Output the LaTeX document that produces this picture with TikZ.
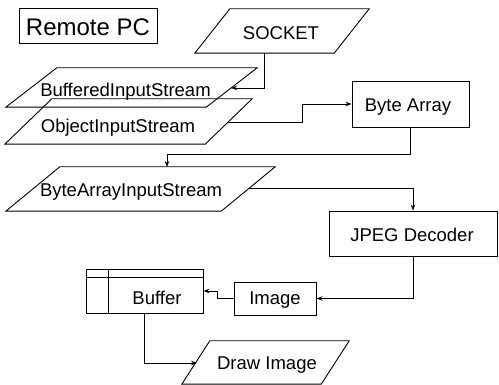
\documentclass[tikz,border=0pt]{standalone}
\usepackage{fontspec}
\setmainfont{Liberation Sans}
\usetikzlibrary{arrows.meta}

% #1 name, #2 #3 centre, #4 width, #5 height, #6 half slant,
% #7 #8 text base point, #9 text
\newcommand\slantbox[9]{%
  \node[shell, minimum width=#4, minimum height=#5] (#1) at (#2,#3) {};
  \draw[edge] ([xshift=#6]#1.north west) -- ([xshift=#6]#1.north east)
    -- ([xshift=-#6]#1.south east) -- ([xshift=-#6]#1.south west) -- cycle;
  \node[lbl] (#1-t) at (#7,#8) {#9};
}

\tikzset{
  edge/.style={line width=0.9pt, line join=miter},
  shell/.style={inner sep=0pt},
  lbl/.style={inner sep=0pt, anchor=base, font=\fontsize{18.5}{20}\selectfont},
  boxed/.style={shell, draw, line width=0.9pt},
  conn/.style={line width=0.9pt, -{Stealth[length=6pt,width=4.5pt]}},
}

\begin{document}
\begin{tikzpicture}[x=1pt, y=-1pt]
\useasboundingbox (0,0) rectangle (499,385);

% title
\node[boxed, minimum width=138, minimum height=35] (pc) at (88,25.5) {};
\node[lbl, font=\fontsize{24}{26}\selectfont] (pc-t) at (88,36) {Remote PC};

% stream / data parallelograms
\slantbox{sock}{282}{31}{139}{44}{17.5}{281}{39.5}{SOCKET}
\slantbox{bis}{131.5}{87.5}{200}{39}{25.5}{125.5}{97}{BufferedInputStream}
\slantbox{ois}{128.5}{121.5}{200}{45}{23.5}{118}{133}{ObjectInputStream}
\slantbox{bais}{140.5}{189}{215}{44}{27}{131}{197}{ByteArrayInputStream}
\slantbox{drw}{265.5}{362.5}{139}{43}{14}{267}{370}{Draw Image}

% process boxes
\node[boxed, minimum width=117, minimum height=46] (ba) at (410.5,104) {};
\node[lbl] (ba-t) at (408,112) {Byte Array};
\node[boxed, minimum width=168, minimum height=45] (jpeg) at (413,233.5) {};
\node[lbl] (jpeg-t) at (412,241.5) {JPEG Decoder};
\node[boxed, minimum width=82, minimum height=33] (img) at (275,298.5) {};
\node[lbl] (img-t) at (275,305) {Image};

% buffer with header strip and side column
\node[boxed, minimum width=117, minimum height=44] (buf) at (144.5,291) {};
\draw[edge] (buf.north west) ++(0,9) -- ++(117,0);
\draw[edge] (buf.north west) ++(23,0) -- ++(0,44);
\node[lbl] (buf-t) at (157,305) {Buffer};

% connector end points on slanted edges
\coordinate (sockout) at (264,53);
\coordinate (bisin) at (231,88);
\coordinate (oisout) at (227,122);
\coordinate (baisin) at (167,167);
\coordinate (baisout) at (249,188);
\coordinate (drwin) at (197,363);

% connectors
\draw[conn] (sockout) |- (bisin);
\draw[conn] (oisout) -- ++(75,0) |- (ba.west);
\draw[conn] (ba.south) -- ++(0,27) -| (baisin);
\draw[conn] (baisout) -| (jpeg.north);
\draw[conn] (jpeg.south) |- (img.east);
\draw[conn] (img.west) -- ++(-16,0) |- (buf.east);
\draw[conn] (buf.south) |- (drwin);
\end{tikzpicture}
\end{document}
